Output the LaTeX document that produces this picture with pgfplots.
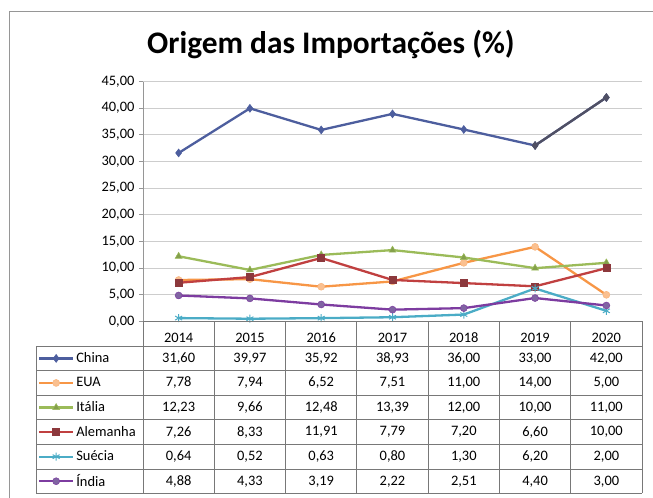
\documentclass[border=0pt]{standalone}
\usepackage{fontspec}
\setmainfont{Carlito}
\usepackage{pgfplots}
\usepackage{pgfplotstable}
\pgfplotsset{compat=1.18}
\definecolor{cChina}{RGB}{77,94,158}
\definecolor{cChinaD}{RGB}{80,80,100}
\definecolor{cEUA}{RGB}{247,150,70}
\definecolor{cItalia}{RGB}{155,187,89}
\definecolor{cAlem}{RGB}{192,64,64}
\definecolor{cAlemM}{RGB}{140,56,60}
\definecolor{cSuecia}{RGB}{75,172,198}
\definecolor{cIndia}{RGB}{125,60,160}
\definecolor{cIndiaM}{RGB}{128,100,162}
\definecolor{gridc}{RGB}{205,205,205}
\definecolor{tabc}{RGB}{120,120,120}
\definecolor{framec}{RGB}{150,150,150}
\pgfplotstableread{
year China EUA Italia Alemanha Suecia India
2014 31.60 7.78 12.23 7.26 0.64 4.88
2015 39.97 7.94 9.66 8.33 0.52 4.33
2016 35.92 6.52 12.48 11.91 0.63 3.19
2017 38.93 7.51 13.39 7.79 0.80 2.22
2018 36.00 11.00 12.00 7.20 1.30 2.51
2019 33.00 14.00 10.00 6.60 6.20 4.40
2020 42.00 5.00 11.00 10.00 2.00 3.00
}\data
\begin{document}
\begin{tikzpicture}
\path[use as bounding box] (0,0) rectangle (653bp,498bp);
% outer frame
\draw[framec, line width=0.8bp] (9bp,0bp) -- (9bp,487bp) -- (653bp,487bp);
\begin{axis}[
  at={(143bp,176.5bp)}, anchor=south west,
  scale only axis, width=499bp, height=240bp,
  xmin=-0.5, xmax=6.5, ymin=0, ymax=45,
  ytick={0,5,...,45},
  xtick={0,...,6},
  xticklabels={2014,2015,2016,2017,2018,2019,2020},
  xtick style={draw=none},
  xticklabel style={anchor=base, yshift=-17.4bp, inner sep=0pt, font=\fontsize{14.5}{16}\selectfont},
  yticklabel style={font=\fontsize{14.5}{16}\selectfont, xshift=-1bp},
  yticklabel={\pgfmathprintnumber[fixed,fixed zerofill,precision=2,use comma,assume math mode=true]{\tick}},
  axis lines*=left,
  axis line style={tabc, line width=0.8bp},
  y axis line style={framec},
  ytick style={framec, line width=0.8bp},
  tick align=outside, major tick length=4bp,
  ymajorgrids, grid style={gridc, line width=0.9bp},
  legend cell align=left,
  legend style={draw=none, fill=none, inner sep=0pt, outer sep=0pt,
    row sep=0pt, column sep=2bp,
    at={(axis description cs:0,0)}, anchor=north west,
    xshift=-105bp, yshift=-24.6bp,
    nodes={inner sep=0pt, minimum height=24.57bp, font=\fontsize{14.5}{16}\selectfont}},
  legend image code/.code={\draw[mark repeat=2,mark phase=2] plot coordinates {(0bp,0bp) (17bp,0bp) (34bp,0bp)};},
  every axis plot/.append style={line width=2.3bp},
]
\addplot[cChina, mark=diamond*, mark size=4bp, mark options={fill=cChina, line width=0.5bp}] table[x expr=\coordindex, y=China] {\data};
\addlegendentry{China}
\addplot[cEUA, mark=*, mark size=3.5bp, mark options={fill=cEUA!60, draw=cEUA!70, line width=0.5bp}] table[x expr=\coordindex, y=EUA] {\data};
\addlegendentry{EUA}
\addplot[cItalia, mark=triangle*, mark size=4bp, mark options={fill=cItalia!85!black, line width=0.5bp}] table[x expr=\coordindex, y=Italia] {\data};
\addlegendentry{Itália}
\addplot[cAlem, mark=square*, mark size=3.5bp, mark options={fill=cAlemM, draw=cAlemM, line width=0.5bp}] table[x expr=\coordindex, y=Alemanha] {\data};
\addlegendentry{Alemanha}
\addplot[cSuecia, mark=asterisk, mark size=4bp, mark options={line width=1bp}] table[x expr=\coordindex, y=Suecia] {\data};
\addlegendentry{Suécia}
\addplot[cIndia, mark=*, mark size=3.5bp, mark options={fill=cIndiaM, draw=cIndia, line width=0.5bp}] table[x expr=\coordindex, y=India] {\data};
\addlegendentry{Índia}
\addplot[cChinaD, forget plot, restrict x to domain=5:6, mark=diamond*, mark size=4bp, mark options={fill=cChinaD, line width=0.5bp}] table[x expr=\coordindex, y=China] {\data};
\end{axis}
\begin{scope}[shift={(0bp,498bp)}, x=1bp, y=-1bp]
  % title
  \node[font=\fontsize{31.5}{36}\selectfont\bfseries] at (331,45) {Origem das Importações (\%)};
  % table grid
  \draw[tabc, line width=0.8bp] (143,321.5) -- (642,321.5);
  \foreach \k in {1,...,7} {
    \draw[tabc, line width=0.8bp] (36,{321.5+24.57*\k}) -- (642,{321.5+24.57*\k});
  }
  \draw[tabc, line width=0.8bp] (36,346.07) -- (36,493.5);
  \foreach \c in {0,...,7} {
    \draw[tabc, line width=0.8bp] ({143+71.286*\c},321.5) -- ({143+71.286*\c},493.5);
  }
  % table values
  \foreach \col [count=\k from 0] in {China,EUA,Italia,Alemanha,Suecia,India} {
    \foreach \r in {0,...,6} {
      \pgfplotstablegetelem{\r}{\col}\of\data
      \node[font=\fontsize{14.5}{16}\selectfont] at ({143+71.286*(\r+0.5)}, {358.4+24.57*\k}) {\pgfmathprintnumber[fixed,fixed zerofill,precision=2,use comma,assume math mode=true]{\pgfplotsretval}};
    }
  }
\end{scope}
\end{tikzpicture}
\end{document}
